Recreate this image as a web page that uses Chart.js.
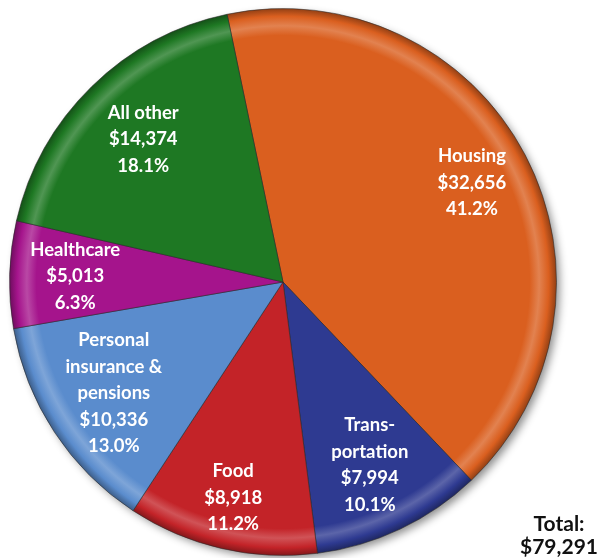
<!DOCTYPE html>
<html>
<head>
<meta charset="utf-8">
<script src="https://cdn.jsdelivr.net/npm/chart.js@4"></script>
<style>
  html, body { margin: 0; padding: 0; background: #fff; }
  #wrap { position: relative; width: 600px; height: 558px; }
  #total {
    position: absolute; right: 2px; top: 511px;
    font: bold 21px Lato, "Open Sans", sans-serif; color: #111;
    text-align: center; line-height: 23px;
  }
</style>
</head>
<body>
<div id="wrap">
  <canvas id="pie" width="600" height="558"></canvas>
  <div id="total">Total:<br>$79,291</div>
</div>
<script>
// ---------- Data ----------
var categories = ['Housing', 'Transportation', 'Food', 'Personal insurance & pensions', 'Healthcare', 'All other'];
var labelLines = [['Housing'], ['Trans-', 'portation'], ['Food'], ['Personal', 'insurance &', 'pensions'], ['Healthcare'], ['All other']];
var amounts = [32656, 7994, 8918, 10336, 5013, 14374];
var percents = [41.2, 10.1, 11.2, 13.0, 6.3, 18.1];

// ---------- Styles ----------
var colors = ['#DA5F1F', '#2E3A91', '#C32328', '#5A8CCD', '#A5148C', '#1E7823'];
var labelRadius = [0.78, 0.74, 0.81, 0.74, 0.76, 0.73];

function shade(hex, amt) {
    var n = parseInt(hex.slice(1), 16);
    var r = (n >> 16) & 255, g = (n >> 8) & 255, b = n & 255;
    function f(c) {
        var v = amt >= 0 ? c + (255 - c) * amt : c * (1 + amt);
        return Math.round(Math.max(0, Math.min(255, v)));
    }
    return 'rgb(' + f(r) + ',' + f(g) + ',' + f(b) + ')';
}

// Bevel-like radial gradient per slice
function sliceFill(context) {
    var chart = context.chart;
    var base = colors[context.dataIndex];
    var area = chart.chartArea;
    if (!area) return base;
    var cx = (area.left + area.right) / 2;
    var cy = (area.top + area.bottom) / 2;
    var r = Math.min(area.right - area.left, area.bottom - area.top) / 2;
    var g = chart.ctx.createRadialGradient(cx, cy, 0, cx, cy, r);
    g.addColorStop(0, base);
    g.addColorStop(0.9, base);
    g.addColorStop(0.935, shade(base, 0.22));
    g.addColorStop(0.97, base);
    g.addColorStop(1, shade(base, -0.35));
    return g;
}

// ---------- Plugins ----------
var shadowPlugin = {
    id: 'pieShadow',
    beforeDatasetsDraw: function(chart) {
        var arc = chart.getDatasetMeta(0).data[0];
        if (!arc) return;
        var ctx = chart.ctx;
        ctx.save();
        ctx.shadowColor = 'rgba(0,0,0,0.45)';
        ctx.shadowBlur = 8;
        ctx.shadowOffsetX = 4;
        ctx.shadowOffsetY = 4;
        ctx.fillStyle = '#888';
        ctx.beginPath();
        ctx.arc(arc.x, arc.y, arc.outerRadius - 1, 0, Math.PI * 2);
        ctx.fill();
        ctx.restore();
    }
};

var labelPlugin = {
    id: 'sliceLabels',
    afterDatasetsDraw: function(chart) {
        var ctx = chart.ctx;
        var arcs = chart.getDatasetMeta(0).data;
        ctx.save();
        ctx.fillStyle = '#fff';
        ctx.font = 'bold 18.5px Lato, "Open Sans", sans-serif';
        ctx.textAlign = 'center';
        ctx.textBaseline = 'middle';
        arcs.forEach(function(arc, i) {
            var mid = (arc.startAngle + arc.endAngle) / 2;
            var r = arc.outerRadius * labelRadius[i];
            var x = arc.x + Math.cos(mid) * r;
            var y = arc.y + Math.sin(mid) * r;
            var lines = labelLines[i].concat(['$' + amounts[i].toLocaleString('en-US'), percents[i].toFixed(1) + '%']);
            var lh = 26.5;
            var top = y - (lines.length - 1) * lh / 2;
            lines.forEach(function(t, k) {
                ctx.fillText(t, x, top + k * lh);
            });
        });
        ctx.restore();
    }
};

// ---------- Chart ----------
var pie = new Chart(document.getElementById('pie'), {
    type: 'pie',
    data: {
        labels: categories,
        datasets: [{
            data: amounts,
            backgroundColor: sliceFill,
            borderColor: 'rgba(40,40,40,0.55)',
            borderWidth: 1
        }]
    },
    options: {
        responsive: false,
        animation: false,
        rotation: -11.8,
        layout: { padding: { left: 9, right: 43, top: 8, bottom: 2 } },
        plugins: {
            legend: { display: false },
            tooltip: { enabled: false }
        }
    },
    plugins: [shadowPlugin, labelPlugin]
});
// Second pass so the gradients see the final chart area.
pie.update();
</script>
</body>
</html>
